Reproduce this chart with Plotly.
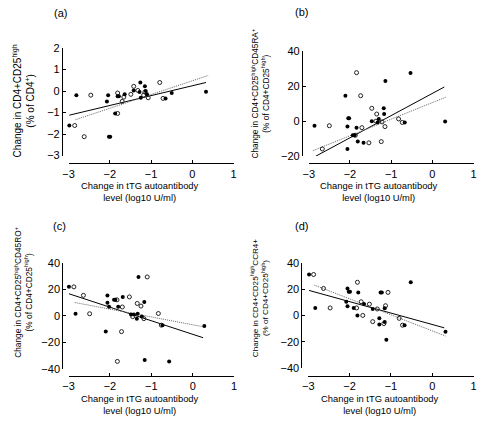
import plotly.graph_objects as go

W, H = 481, 422

# ---------------- data ----------------
# (a) CD4+CD25high
a_filled_x = [-2.98, -2.81, -2.07, -2.04, -2.02, -1.99, -1.87, -1.81, -1.78, -1.64, -1.42, -1.28, -1.26, -1.25, -1.15, -1.13, -1.10, -0.65, -0.50, 0.33]
a_filled_y = [-1.60, -0.19, -0.48, -0.19, -2.12, -2.12, -1.04, -0.24, -0.24, -0.15, 0.03, -0.04, 0.40, -0.31, 0.22, 0.00, -0.15, -0.34, -0.09, -0.03]
a_open_x = [-2.85, -2.62, -2.46, -1.81, -1.81, -1.70, -1.66, -1.49, -1.42, -1.32, -1.18, -1.15, -1.07, -0.79, -0.71]
a_open_y = [-1.60, -2.12, -0.19, -0.09, -1.04, -0.48, -0.28, -0.15, 0.22, 0.03, -0.19, -0.04, -0.31, 0.40, -0.34]
a_fit_solid_x = [-2.98, 0.33]
a_fit_solid_y = [-1.12, 0.40]
a_fit_dot_x = [-2.83, 0.39]
a_fit_dot_y = [-1.33, 0.73]

# (b) CD4+CD25highCD45RA+
b_filled_x = [-2.86, -2.11, -2.06, -2.04, -2.02, -2.06, -1.93, -1.89, -1.84, -1.81, -1.67, -1.47, -1.33, -1.30, -1.18, -1.17, -1.14, -0.67, -0.53, 0.31]
b_filled_y = [-2.6, 14.6, -3.0, 1.7, 1.7, -15.9, -8.1, -8.1, -3.7, -11.7, -12.4, 0.0, -0.7, 1.3, 7.4, 4.1, 23.0, -0.7, 27.6, -0.2]
b_open_x = [-2.67, -2.50, -1.84, -1.87, -1.74, -1.71, -1.54, -1.47, -1.35, -1.37, -1.24, -1.22, -1.15, -0.82, -0.73]
b_open_y = [-15.9, -2.6, 27.8, -8.1, 14.6, -3.7, -12.4, 7.4, 4.1, 0.0, -11.7, -0.4, -3.1, 1.3, -0.7]
b_fit_solid_x = [-2.84, 0.29]
b_fit_solid_y = [-20.2, 19.6]
b_fit_dot_x = [-2.90, 0.32]
b_fit_dot_y = [-16.9, 13.7]

# (c) CD4+CD25highCD45RO+
c_filled_x = [-2.99, -2.83, -2.10, -2.06, -2.06, -2.02, -1.90, -1.87, -1.80, -1.69, -1.49, -1.42, -1.35, -1.33, -1.31, -1.23, -1.17, -1.16, -0.73, -0.57, 0.28]
c_filled_y = [21.8, 1.5, -12.0, 15.2, 9.8, 6.8, 12.0, 12.0, 6.8, 14.2, 1.0, 1.0, -2.2, 1.5, 29.3, -0.5, 10.3, -33.5, -7.1, -34.5, -7.8]
c_open_x = [-2.87, -2.64, -2.49, -1.83, -1.82, -1.72, -1.70, -1.53, -1.45, -1.34, -1.25, -1.18, -1.10, -0.83, -0.76]
c_open_y = [21.8, 15.4, 1.5, 12.0, -34.5, -12.0, 6.6, 14.2, -0.7, 9.3, 7.3, -2.2, 29.3, 1.7, -7.1]
c_fit_solid_x = [-2.99, 0.25]
c_fit_solid_y = [16.6, -16.6]
c_fit_dot_x = [-2.85, 0.25]
c_fit_dot_y = [10.0, -8.3]

# (d) CD4+CD25highCCR4+
d_filled_x = [-2.98, -2.83, -2.08, -2.05, -2.02, -1.99, -2.05, -1.90, -1.79, -1.81, -1.65, -1.44, -1.28, -1.28, -1.25, -1.22, -1.15, -1.15, -1.11, -0.67, -0.52, 0.32]
d_filled_y = [31.1, 5.7, 10.4, 20.5, 18.0, 18.0, 6.9, 5.7, 17.5, 0.0, 8.6, 4.9, -2.2, -6.9, 17.5, 17.5, 5.4, -4.9, -18.5, -7.4, 25.2, -12.3]
d_open_x = [-2.87, -2.63, -2.47, -1.81, -1.83, -1.72, -1.68, -1.52, -1.44, -1.33, -1.17, -1.13, -1.07, -0.80, -0.72]
d_open_y = [31.1, 20.5, 5.7, 25.2, 5.7, 10.4, 0.0, 8.6, -4.7, 4.9, -6.2, 7.4, 17.5, -2.2, -7.4]
d_fit_solid_x = [-2.98, 0.29]
d_fit_solid_y = [19.0, -9.4]
d_fit_dot_x = [-2.85, 0.32]
d_fit_dot_y = [23.0, -15.6]

x_tick_vals = [-3, -2, -1, 0, 1]
panel_labels = ["(a)", "(b)", "(c)", "(d)"]
x_title = "Change in tTG autoantibody<br>level (log10 U/ml)"
y_titles = [
    "Change in CD4+CD25<sup>high</sup><br>(% of CD4<sup>+</sup>)",
    "Change in CD4+CD25<sup>high</sup>CD45RA<sup>+</sup><br>(% of CD4+CD25<sup>high</sup>)",
    "Change in CD4+CD25<sup>high</sup>CD45RO<sup>+</sup><br>(% of CD4+CD25<sup>high</sup>)",
    "Change in CD4+CD25<sup>high</sup>CCR4+<br>(% of CD4+CD25<sup>high</sup>)",
]
y_ranges = [(-3, 2), (-20, 40), (-40, 40), (-40, 40)]
y_dticks = [1, 20, 20, 20]

# ---------------- layout helpers (pixel geometry) ----------------
def fx(p):
    return p / W

def fy(p):
    return 1 - p / H

FONT = "Liberation Sans, Arial, sans-serif"

panels = [
    dict(xd=(63.7, 232.0), yd=(43.3, 154.0), yl=57.0, xl=162.0,
         lab=(56, 7), xt=(137, 190.5), yt=(17.5, 98), ytsize=10),
    dict(xd=(308.5, 476.5), yd=(46.7, 154.5), yl=301.5, xl=162.0,
         lab=(301, 6), xt=(380.5, 191), yt=(259, 90), ytsize=8.3),
    dict(xd=(63.7, 232.5), yd=(264.3, 373.3), yl=57.3, xl=381.0,
         lab=(55, 226), xt=(137, 409.7), yt=(17.5, 295), ytsize=8.3),
    dict(xd=(308.0, 476.5), yd=(264.3, 372.7), yl=301.0, xl=380.7,
         lab=(301, 226), xt=(381, 409.7), yt=(258.5, 300), ytsize=8.1),
]

data = [
    (a_filled_x, a_filled_y, a_open_x, a_open_y, a_fit_solid_x, a_fit_solid_y, a_fit_dot_x, a_fit_dot_y),
    (b_filled_x, b_filled_y, b_open_x, b_open_y, b_fit_solid_x, b_fit_solid_y, b_fit_dot_x, b_fit_dot_y),
    (c_filled_x, c_filled_y, c_open_x, c_open_y, c_fit_solid_x, c_fit_solid_y, c_fit_dot_x, c_fit_dot_y),
    (d_filled_x, d_filled_y, d_open_x, d_open_y, d_fit_solid_x, d_fit_solid_y, d_fit_dot_x, d_fit_dot_y),
]

fig = go.Figure()
layout = dict(
    width=W, height=H, margin=dict(l=0, r=0, t=0, b=0),
    paper_bgcolor="white", plot_bgcolor="white", showlegend=False,
    font=dict(family=FONT, size=11, color="black"),
)
annotations = []

for i, (p, d) in enumerate(zip(panels, data)):
    n = "" if i == 0 else str(i + 1)
    xa, ya = "x" + n, "y" + n
    fxv, fyv, oxv, oyv, sx, sy, dx, dy = d
    fig.add_trace(go.Scatter(x=sx, y=sy, mode="lines", xaxis=xa, yaxis=ya,
                             line=dict(color="black", width=1), cliponaxis=False))
    fig.add_trace(go.Scatter(x=dx, y=dy, mode="lines", xaxis=xa, yaxis=ya,
                             line=dict(color="#666666", width=1, dash="1px,1px"), cliponaxis=False))
    fig.add_trace(go.Scatter(x=oxv, y=oyv, mode="markers", xaxis=xa, yaxis=ya,
                             marker=dict(symbol="circle-open", size=4, color="#222222",
                                         line=dict(width=1, color="#222222")), cliponaxis=False))
    fig.add_trace(go.Scatter(x=fxv, y=fyv, mode="markers", xaxis=xa, yaxis=ya,
                             marker=dict(symbol="circle", size=4, color="black"), cliponaxis=False))

    layout["xaxis" + n] = dict(
        domain=[fx(p["xd"][0]), fx(p["xd"][1])], range=[-3, 1],
        anchor="free", position=fy(p["xl"]),
        tickvals=x_tick_vals, ticks="inside", ticklen=3, tickcolor="black",
        showline=True, linecolor="black", linewidth=1, showgrid=False, zeroline=False,
        tickfont=dict(family=FONT, size=11, color="black"),
    )
    y0, y1 = y_ranges[i]
    layout["yaxis" + n] = dict(
        domain=[fy(p["yd"][1]), fy(p["yd"][0])], range=[y0, y1],
        anchor="free", position=fx(p["yl"]),
        dtick=y_dticks[i], tick0=0, ticks="inside", ticklen=3, tickcolor="black",
        showline=True, linecolor="black", linewidth=1, showgrid=False, zeroline=False,
        tickfont=dict(family=FONT, size=11, color="black"),
    )
    annotations.append(dict(text=panel_labels[i], x=fx(p["lab"][0]), y=fy(p["lab"][1]),
                            xref="paper", yref="paper", showarrow=False,
                            xanchor="center", yanchor="middle",
                            font=dict(family=FONT, size=11, color="black")))
    annotations.append(dict(text=x_title, x=fx(p["xt"][0]), y=fy(p["xt"][1]),
                            xref="paper", yref="paper", showarrow=False,
                            xanchor="center", yanchor="middle", align="center",
                            font=dict(family=FONT, size=9.4, color="black")))
    annotations.append(dict(text=y_titles[i], x=fx(p["yt"][0]), y=fy(p["yt"][1]),
                            xref="paper", yref="paper", showarrow=False, textangle=-90,
                            xanchor="center", yanchor="middle", align="center",
                            font=dict(family=FONT, size=p["ytsize"], color="black")))

layout["annotations"] = annotations
fig.update_layout(**layout)
fig.write_html("out.html", config={"displayModeBar": False},
               post_script="document.body.style.margin='0px';document.body.style.padding='0px';")
